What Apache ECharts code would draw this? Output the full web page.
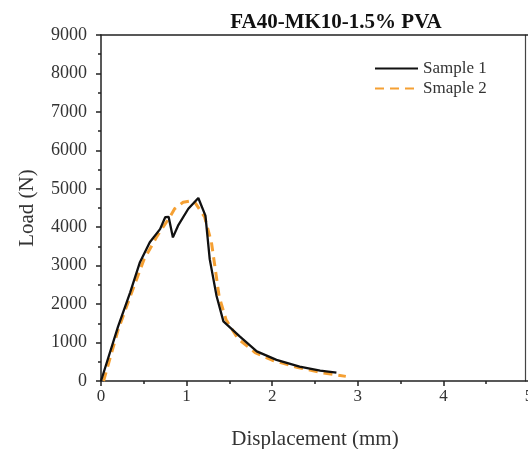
<!DOCTYPE html>
<html><head><meta charset="utf-8">
<script src="https://cdn.jsdelivr.net/npm/echarts@6/dist/echarts.min.js"></script>
<style>html,body{margin:0;padding:0;background:#fff}#c{width:528px;height:449px}</style>
</head><body><div id="c"></div>
<script>
var titleText = 'FA40-MK10-1.5% PVA';
var xName = 'Displacement (mm)';
var yName = 'Load (N)';
var seriesNames = ['Sample 1', 'Smaple 2'];
var sample1 = [[0,0],[0.2,1420],[0.34,2300],[0.455,3090],[0.57,3610],[0.69,3950],[0.75,4260],[0.79,4270],[0.84,3735],[0.9,4040],[1.02,4480],[1.137,4760],[1.22,4300],[1.27,3170],[1.35,2210],[1.43,1550],[1.62,1160],[1.82,770],[2.05,550],[2.32,375],[2.56,270],[2.75,215]];
var sample2 = [[0.03,0],[0.2,1330],[0.35,2250],[0.5,3150],[0.65,3750],[0.8,4250],[0.86,4480],[0.96,4650],[1.08,4700],[1.21,4270],[1.29,3610],[1.33,2990],[1.38,2200],[1.46,1600],[1.6,1100],[1.8,740],[2.0,540],[2.3,350],[2.6,210],[2.75,160],[2.86,120]];
var xMin = 0, xMax = 5, xStep = 1;
var yMin = 0, yMax = 9000, yStep = 1000;

var chart = echarts.init(document.getElementById('c'), null, {renderer:'canvas'});
var serif = '"Liberation Serif","Times New Roman",serif';
chart.setOption({
  animation:false,
  backgroundColor:'#fff',
  title:{text:titleText,left:331,top:7,textAlign:'center',textStyle:{fontFamily:serif,fontWeight:'bold',fontSize:21,color:'#111'}},
  legend:{left:369,top:55,orient:'vertical',itemWidth:43,itemHeight:14,itemGap:3,
    itemStyle:{opacity:0},
    textStyle:{fontFamily:serif,fontSize:17,color:'#333'},
    data:[seriesNames[0],seriesNames[1]]},
  grid:{left:101,top:35,width:428,height:346,containLabel:false,outerBoundsMode:'none'},
  xAxis:[{type:'value',min:xMin,max:xMax,interval:xStep,
    name:xName,nameLocation:'middle',nameGap:48,nameTextStyle:{fontFamily:serif,fontSize:21,color:'#333'},
    axisLine:{onZero:false,lineStyle:{color:'#222',width:1.5}},
    axisTick:{show:true,length:5,lineStyle:{color:'#222',width:1.5}},
    minorTick:{show:true,splitNumber:2,length:3,lineStyle:{color:'#222',width:1.5}},
    axisLabel:{fontFamily:serif,fontSize:17,color:'#333',margin:7},
    splitLine:{show:false}},
   {type:'value',position:'top',min:xMin,max:xMax,axisLine:{show:true,onZero:false,lineStyle:{color:'#222',width:1.5}},axisTick:{show:false},axisLabel:{show:false},splitLine:{show:false}}],
  yAxis:[{type:'value',min:yMin,max:yMax,interval:yStep,
    name:yName,nameLocation:'middle',nameGap:63,nameTextStyle:{fontFamily:serif,fontSize:21,color:'#333'},
    axisLine:{show:true,onZero:false,lineStyle:{color:'#222',width:1.5}},
    axisTick:{show:true,length:5,lineStyle:{color:'#222',width:1.5}},
    minorTick:{show:true,splitNumber:2,length:3,lineStyle:{color:'#222',width:1.5}},
    axisLabel:{fontFamily:serif,fontSize:18,color:'#333',margin:14,formatter:function(v){return String(v);}},
    splitLine:{show:false}},
   {type:'value',position:'right',offset:-4,min:yMin,max:yMax,axisLine:{show:true,onZero:false,lineStyle:{color:'#444',width:1.2}},axisTick:{show:false},axisLabel:{show:false},splitLine:{show:false}}],
  series:[
    {name:seriesNames[0],type:'line',data:sample1,showSymbol:false,symbol:'none',z:3,
      itemStyle:{color:'#111'},lineStyle:{color:'#111',width:2.3}},
    {name:seriesNames[1],type:'line',data:sample2,showSymbol:false,symbol:'none',z:2,
      itemStyle:{color:'#F5A033'},lineStyle:{color:'#F5A033',width:3,type:[9,6]}}
  ]
});
</script></body></html>
